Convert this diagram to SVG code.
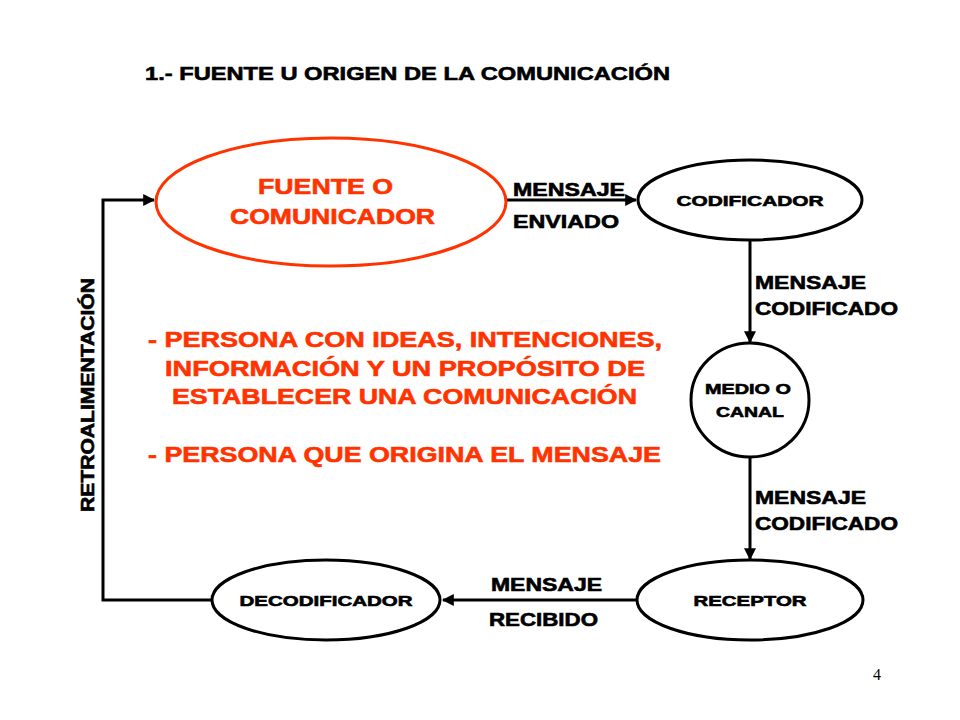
<svg xmlns="http://www.w3.org/2000/svg" width="960" height="720" viewBox="0 0 960 720">
<style>
text{font-family:"Liberation Sans",Arial,sans-serif;font-weight:bold;fill:#000;stroke:#000;stroke-width:0.6}
.red{fill:#FF3300;stroke:#FF3300}
.lbl{font-size:18px}
.node{font-size:15px;text-anchor:middle}
.shape{fill:#fff;stroke:#000;stroke-width:3}
.conn{fill:none;stroke:#000;stroke-width:3}
</style>
<defs>
<marker id="ah" viewBox="0 0 10 10" refX="9" refY="5" markerWidth="4" markerHeight="4" orient="auto" markerUnits="strokeWidth">
<path d="M0,0 L10,5 L0,10 z" fill="#000"/>
</marker>
</defs>
<rect width="960" height="720" fill="#fff"/>
<text x="145" y="80" font-size="19" textLength="525" lengthAdjust="spacingAndGlyphs">1.- FUENTE U ORIGEN DE LA COMUNICACIÓN</text>
<g id="connectors">
<line class="conn" x1="507" y1="200" x2="636" y2="200" marker-end="url(#ah)"/>
<line class="conn" x1="750" y1="240" x2="750" y2="342" marker-end="url(#ah)"/>
<line class="conn" x1="750" y1="457" x2="750" y2="559" marker-end="url(#ah)"/>
<line class="conn" x1="637" y1="600" x2="443" y2="600" marker-end="url(#ah)"/>
<polyline class="conn" points="212,600 103,600 103,200 154,200" marker-end="url(#ah)"/>
<text class="lbl" x="513" y="196" textLength="112" lengthAdjust="spacingAndGlyphs">MENSAJE</text>
<text class="lbl" x="513" y="228" textLength="106" lengthAdjust="spacingAndGlyphs">ENVIADO</text>
<text class="lbl" x="755" y="289" textLength="111" lengthAdjust="spacingAndGlyphs">MENSAJE</text>
<text class="lbl" x="755" y="315" textLength="143" lengthAdjust="spacingAndGlyphs">CODIFICADO</text>
<text class="lbl" x="755" y="504" textLength="111" lengthAdjust="spacingAndGlyphs">MENSAJE</text>
<text class="lbl" x="755" y="530" textLength="143" lengthAdjust="spacingAndGlyphs">CODIFICADO</text>
<text class="lbl" x="491" y="591" textLength="111" lengthAdjust="spacingAndGlyphs">MENSAJE</text>
<text class="lbl" x="489" y="626" textLength="109" lengthAdjust="spacingAndGlyphs">RECIBIDO</text>
<text class="lbl" font-size="17" transform="translate(94,512) rotate(-90)" textLength="234" lengthAdjust="spacingAndGlyphs">RETROALIMENTACIÓN</text>
</g>
<g id="fuente">
<ellipse cx="331" cy="202" rx="175" ry="64" fill="#fff" stroke="#FF3300" stroke-width="3"/>
<text class="red" x="258" y="194" font-size="22" textLength="135" lengthAdjust="spacingAndGlyphs">FUENTE O</text>
<text class="red" x="230" y="224" font-size="22" textLength="205" lengthAdjust="spacingAndGlyphs">COMUNICADOR</text>
</g>
<g id="codificador">
<ellipse class="shape" cx="750" cy="200" rx="112" ry="40"/>
<text class="node" x="750" y="206" textLength="147" lengthAdjust="spacingAndGlyphs">CODIFICADOR</text>
</g>
<g id="medio">
<ellipse class="shape" cx="750" cy="400" rx="59" ry="57"/>
<text class="node" x="748" y="394" textLength="86" lengthAdjust="spacingAndGlyphs">MEDIO O</text>
<text class="node" x="750" y="417" textLength="68" lengthAdjust="spacingAndGlyphs">CANAL</text>
</g>
<g id="receptor">
<ellipse class="shape" cx="750" cy="600" rx="113" ry="40"/>
<text class="node" x="750" y="606" textLength="113" lengthAdjust="spacingAndGlyphs">RECEPTOR</text>
</g>
<g id="decodificador">
<ellipse class="shape" cx="326" cy="600" rx="114" ry="40"/>
<text class="node" x="326" y="606" textLength="173" lengthAdjust="spacingAndGlyphs">DECODIFICADOR</text>
</g>
<g id="descripcion">
<text class="red" x="148" y="347" font-size="22" textLength="514" lengthAdjust="spacingAndGlyphs">- PERSONA CON IDEAS, INTENCIONES,</text>
<text class="red" x="165" y="376" font-size="22" textLength="480" lengthAdjust="spacingAndGlyphs">INFORMACIÓN Y UN PROPÓSITO DE</text>
<text class="red" x="172" y="404" font-size="22" textLength="465" lengthAdjust="spacingAndGlyphs">ESTABLECER UNA COMUNICACIÓN</text>
<text class="red" x="148" y="462" font-size="22" textLength="513" lengthAdjust="spacingAndGlyphs">- PERSONA QUE ORIGINA EL MENSAJE</text>
</g>
<text x="873" y="680" font-size="16" style="font-family:'Liberation Serif',serif;font-weight:normal;stroke:none">4</text>
</svg>
